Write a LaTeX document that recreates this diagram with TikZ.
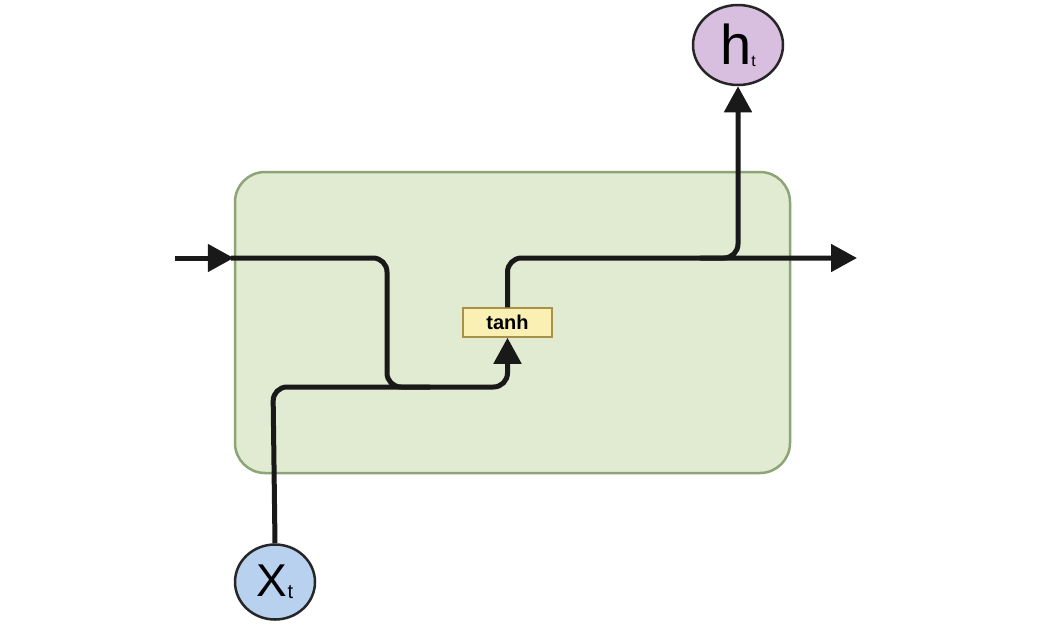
\documentclass[tikz,border=0pt]{standalone}
\usepackage{fontspec}
\setmainfont{Liberation Sans}
\usetikzlibrary{arrows.meta,shapes.geometric,calc}
\definecolor{cellfill}{HTML}{E1EBD2}
\definecolor{celldraw}{HTML}{8DA576}
\definecolor{hfill}{HTML}{D8BEDF}
\definecolor{xfill}{HTML}{B7D1EF}
\definecolor{tanhfill}{HTML}{FBF0B4}
\definecolor{tanhdraw}{HTML}{A8924A}
\tikzset{
  wire/.style={line width=5pt, black!90, rounded corners=14pt},
  arrowtip/.style={-{Triangle[length=26pt,width=27pt]}},
  varnode/.style={ellipse, draw=black!85, line width=2.5pt, inner sep=0pt},
}
\begin{document}
\begin{tikzpicture}[x=1pt,y=-1pt]
\useasboundingbox[fill=white] (0,0) rectangle (1050,625);
\node[draw=celldraw, fill=cellfill, line width=2.5pt, rounded corners=30pt,
      minimum width=555pt, minimum height=301pt, inner sep=0pt] (cell) at (512.5,322.5) {};
\node[draw=tanhdraw, fill=tanhfill, line width=1.5pt, minimum width=89pt,
      minimum height=29pt, inner sep=0pt, font=\fontsize{20}{22}\selectfont\bfseries] (tanh) at (507.5,322.5) {tanh};
\node[varnode, fill=xfill, minimum width=80pt, minimum height=75pt] (xt) at (275,582)
  {\fontsize{46}{48}\selectfont X\raisebox{-2pt}{\fontsize{20}{22}\selectfont t}};
\node[varnode, fill=hfill, minimum width=90pt, minimum height=80pt] (ht) at (738,45)
  {\fontsize{56}{58}\selectfont h\raisebox{-2pt}{\fontsize{16}{18}\selectfont t}};
\coordinate (inL) at (175,258);
\coordinate (outR) at (857,258);
% input arrow
\draw[wire, arrowtip] (inL) -- (cell.west |- inL);
% h_{t-1} path down to merge
\draw[wire] ($(cell.west |- inL)+(-3,0)$) -- (387,258) -- (387,387) -- (430,387);
% x_t path to tanh
\draw[wire, arrowtip] (xt.north) -- (273,387) -- (tanh.south |- 0,387) -- (tanh.south);
% tanh output to right
\draw[wire, arrowtip] (tanh.north) -- (tanh.north |- outR) -- (outR);
% branch to h_t
\draw[wire, arrowtip] (700,258) -- (ht.south |- outR) -- (ht.south);
\end{tikzpicture}
\end{document}
